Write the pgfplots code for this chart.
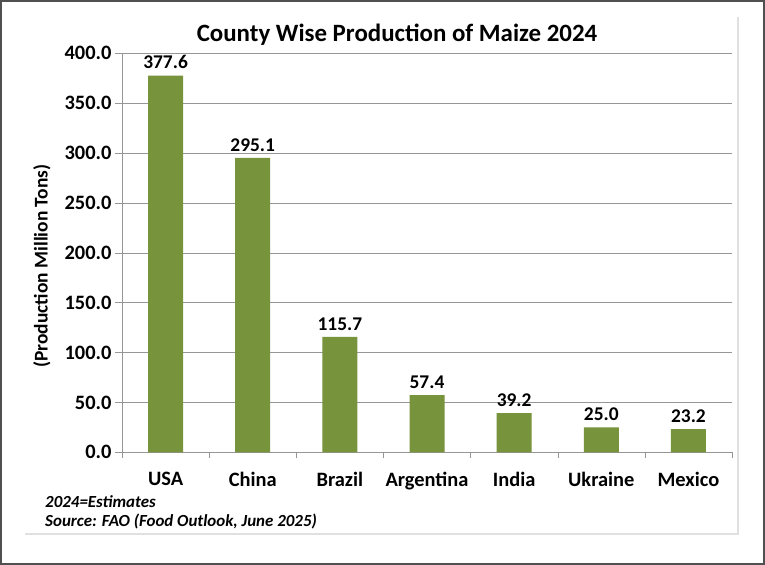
\documentclass[border=0pt]{standalone}
\usepackage{fontspec}
\setmainfont{Carlito}
\usepackage{pgfplots}
\pgfplotsset{compat=1.18}
\definecolor{barolive}{HTML}{77933C}
\definecolor{gridgray}{HTML}{969696}
\definecolor{framegray}{HTML}{505050}
\begin{document}
\begin{tikzpicture}[x=1bp,y=1bp]
\useasboundingbox (0,0) rectangle (765,565);
% outer frame and chart panel
\draw[framegray, line width=2bp] (1,1) rectangle (764,564);
\fill[black!12] (25,30) rectangle (739,548);
\fill[white] (23,32) rectangle (737,550);

\begin{axis}[
    at={(140,113)}, anchor=south west,
    scale only axis,
    width=610bp, height=399bp,
    xmin=-0.5, xmax=6.5,
    ymin=0, ymax=400,
    ytick={0,50,...,400},
    xtick={0,...,6},
    xticklabels={USA,China,Brazil,Argentina,India,Ukraine,Mexico},
    minor xtick={-0.5,0.5,...,6.5},
    major x tick style={draw=none},
    minor x tick style={draw=gridgray, thin},
    minor tick length=6bp,
    major tick length=7bp,
    tick align=outside,
    axis lines*=left,
    axis line style={draw=gridgray, thin},
    ymajorgrids=true,
    major grid style={draw=gridgray, thin},
    y tick style={draw=gridgray, thin},
    /pgf/number format/assume math mode=true,
    tick label style={font=\fontsize{20.5}{24}\selectfont\bfseries},
    yticklabel style={/pgf/number format/.cd, fixed, fixed zerofill, precision=1},
    xticklabel style={yshift=-9bp},
    ybar, bar width=35bp,
    nodes near coords,
    nodes near coords style={font=\fontsize{19.5}{23}\selectfont\bfseries, yshift=3bp,
        /pgf/number format/.cd, fixed, fixed zerofill, precision=1},
]
\addplot[fill=barolive, draw=none] coordinates {
    (0,377.6) (1,295.1) (2,115.7) (3,57.4) (4,39.2) (5,25.0) (6,23.2)};
\end{axis}

\node[font=\fontsize{25}{29}\selectfont\bfseries] at (397,530)
    {County Wise Production of Maize 2024};
\node[font=\fontsize{19.5}{23}\selectfont\bfseries, rotate=90] at (42,299)
    {(Production Million Tons)};
\node[font=\fontsize{17}{20}\selectfont\bfseries\itshape, anchor=west, inner sep=0pt]
    at (45,63) {2024=Estimates};
\node[font=\fontsize{17}{20}\selectfont\bfseries\itshape, anchor=west, inner sep=0pt]
    at (45,43) {Source: FAO (Food Outlook, June 2025)};
\end{tikzpicture}
\end{document}
